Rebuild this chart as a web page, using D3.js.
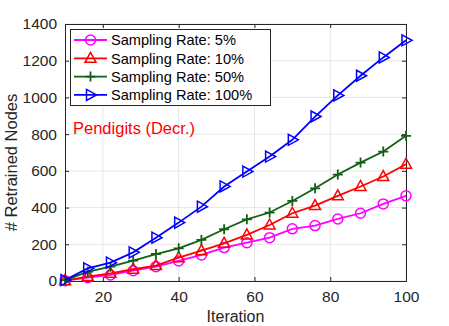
<!DOCTYPE html>
<html><head><meta charset="utf-8">
<script src="https://cdn.jsdelivr.net/npm/d3@7/dist/d3.min.js"></script>
<style>body{margin:0;background:#fff}svg{display:block;font-family:"Liberation Sans",Arial,sans-serif}</style>
</head><body><svg id="c" width="449" height="326"></svg>
<script>
const iterations = [10,16,22,28,34,40,46,52,58,64,70,76,82,88,94,100];
const rate5   = [2,18,33,56,78,109,142,182,209,236,284,302,338,369,420,464];
const rate10  = [2,24,42,64,84,127,165,205,251,305,369,411,464,515,569,636];
const rate50  = [5,50,78,111,147,178,224,282,336,373,436,505,580,645,705,791];
const rate100 = [5,69,100,156,236,318,405,515,596,678,769,896,1011,1118,1218,1311];
const seriesNames = ["Sampling Rate: 5%","Sampling Rate: 10%","Sampling Rate: 50%","Sampling Rate: 100%"];
const xTicks = [20,40,60,80,100];
const yTicks = [0,200,400,600,800,1000,1200,1400];

const series = [
  {name:seriesNames[0], values:rate5,   color:"#ff00ff", marker:"circle"},
  {name:seriesNames[1], values:rate10,  color:"#ff0000", marker:"triangle"},
  {name:seriesNames[2], values:rate50,  color:"#135f13", marker:"plus"},
  {name:seriesNames[3], values:rate100, color:"#0000ff", marker:"tri-right"}
];

const svg = d3.select("#c");
const L=65, R=406, T=24, B=281;
const x = d3.scaleLinear().domain([10,100]).range([L,R]);
const y = d3.scaleLinear().domain([0,1400]).range([B,T]);
const axisColor="#262626";
const fmt = d3.format("d");

// grid
const g = svg.append("g");
g.selectAll(".gx").data(xTicks).join("line").attr("x1",d=>x(d)).attr("x2",d=>x(d)).attr("y1",T).attr("y2",B).attr("stroke","#e6e6e6").attr("stroke-width",1);
g.selectAll(".gy").data(yTicks).join("line").attr("x1",L).attr("x2",R).attr("y1",d=>y(d)).attr("y2",d=>y(d)).attr("stroke","#e6e6e6").attr("stroke-width",1);

// axes
const xa = svg.append("g").attr("transform",`translate(0,${B})`).call(d3.axisBottom(x).tickValues(xTicks).tickFormat(fmt).tickSize(-4).tickPadding(10));
const xa2 = svg.append("g").attr("transform",`translate(0,${T})`).call(d3.axisTop(x).tickValues(xTicks).tickSize(-4).tickFormat(""));
const ya = svg.append("g").attr("transform",`translate(${L},0)`).call(d3.axisLeft(y).tickValues(yTicks).tickFormat(fmt).tickSize(-4).tickPadding(8));
const ya2 = svg.append("g").attr("transform",`translate(${R},0)`).call(d3.axisRight(y).tickValues(yTicks).tickSize(-4).tickFormat(""));
[xa,xa2,ya,ya2].forEach(a=>{
  a.select(".domain").attr("stroke",axisColor).attr("stroke-width",1);
  a.selectAll(".tick line").attr("stroke",axisColor);
  a.selectAll("text").attr("fill",axisColor).style("font-size","15.5px").style("font-family","'Liberation Sans',Arial,sans-serif");
});

// markers
function drawMarker(sel, type, color){
  if(type==="circle"){
    sel.append("circle").attr("r",5).attr("fill","none").attr("stroke",color).attr("stroke-width",1.5);
  } else if(type==="triangle"){
    sel.append("path").attr("d","M0,-6L5.5,4L-5.5,4Z").attr("fill","none").attr("stroke",color).attr("stroke-width",1.5);
  } else if(type==="plus"){
    sel.append("path").attr("d","M-5,0H5M0,-5V5").attr("fill","none").attr("stroke",color).attr("stroke-width",1.8);
  } else {
    sel.append("path").attr("d","M-4,-5.5L6,0L-4,5.5Z").attr("fill","none").attr("stroke",color).attr("stroke-width",1.5);
  }
}

const line = d3.line().x(d=>x(d[0])).y(d=>y(d[1]));
series.forEach(s=>{
  const pts = iterations.map((it,i)=>[it,s.values[i]]);
  svg.append("path").datum(pts).attr("d",line).attr("fill","none").attr("stroke",s.color).attr("stroke-width",1.8);
  svg.append("g").selectAll("g").data(pts).join("g").attr("transform",d=>`translate(${x(d[0])},${y(d[1])})`).each(function(){drawMarker(d3.select(this),s.marker,s.color);});
});

// legend
const lg = svg.append("g");
lg.append("rect").attr("x",70.5).attr("y",29.5).attr("width",200).attr("height",76).attr("fill","#fff").attr("stroke",axisColor).attr("stroke-width",1);
series.forEach((s,i)=>{
  const cy = 40 + i*18.3;
  lg.append("line").attr("x1",74).attr("x2",107).attr("y1",cy).attr("y2",cy).attr("stroke",s.color).attr("stroke-width",1.8);
  drawMarker(lg.append("g").attr("transform",`translate(90.5,${cy})`), s.marker, s.color);
  lg.append("text").attr("x",111).attr("y",cy+5.2).text(s.name).attr("fill","#000").style("font-size","14.6px");
});

// annotation
svg.append("text").attr("x",73).attr("y",134).text("Pendigits (Decr.)").attr("fill","#ff0000").style("font-size","16.5px");

// axis titles
svg.append("text").attr("x",(L+R)/2).attr("y",322).attr("text-anchor","middle").text("Iteration").attr("fill",axisColor).style("font-size","16px");
svg.append("text").attr("transform",`translate(17,${(T+B)/2 + 10}) rotate(-90)`).attr("text-anchor","middle").text("# Retrained Nodes").attr("fill",axisColor).style("font-size","16.5px");
</script></body></html>
